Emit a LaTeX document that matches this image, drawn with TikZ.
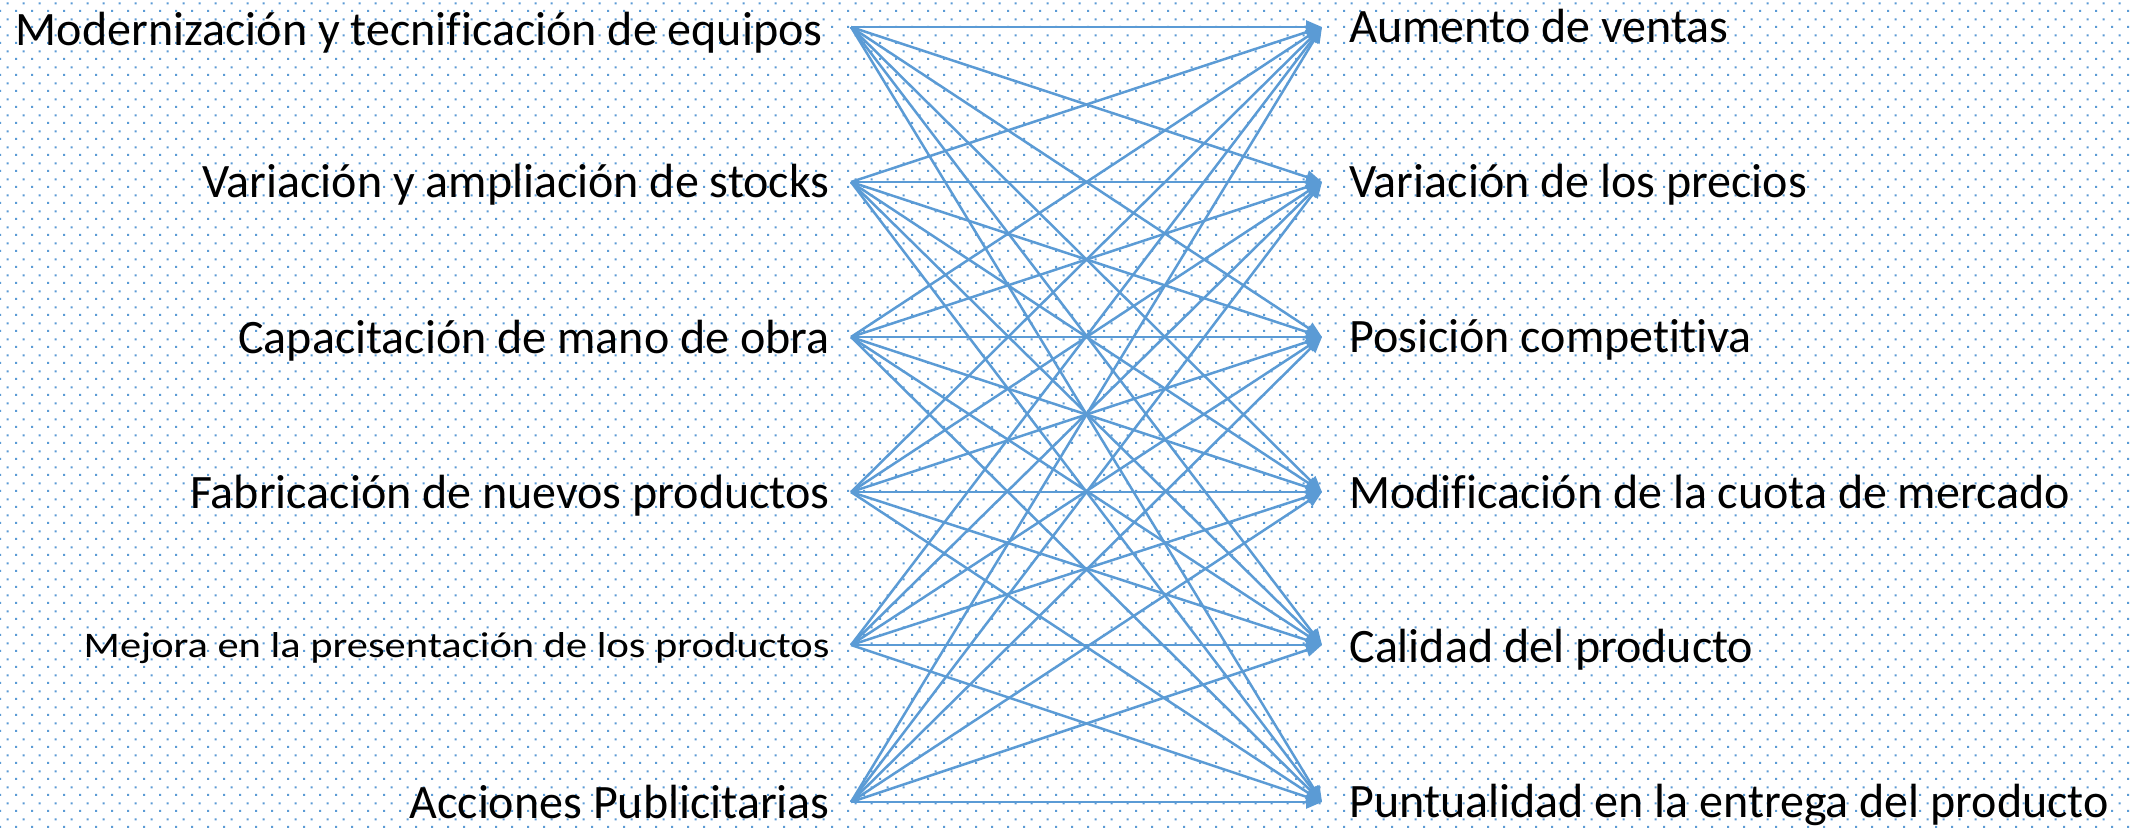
\documentclass[tikz,border=0pt]{standalone}
\usepackage{fontspec}
\setmainfont{Carlito}[Ligatures=NoCommon]
\usetikzlibrary{arrows.meta,patterns.meta}
\definecolor{linkblue}{HTML}{5B9BD5}
\tikzdeclarepattern{
  name=dotgrid,
  type=uncolored,
  bounding box={(0pt,0pt) and (8pt,8pt)},
  tile size={(8pt,8pt)},
  code={
    \fill (0pt,0pt) rectangle (1.1pt,1.1pt);
    \fill (4pt,4pt) rectangle (5.1pt,5.1pt);
  }
}

\begin{document}
\begin{tikzpicture}[
    x=0.5pt, y=-0.5pt,
    cause/.style={anchor=base east, inner sep=0pt, font=\fontsize{24}{29}\selectfont},
    effect/.style={anchor=base west, inner sep=0pt, font=\fontsize{24}{29}\selectfont},
    link/.style={-{Triangle[length=8pt,width=6.5pt]}, draw=linkblue, line width=1.25pt}
  ]
  \useasboundingbox (0,0) rectangle (2131,827);
  \fill[white] (0,0) rectangle (2131,827);
  \fill[pattern=dotgrid, pattern color=linkblue] (0,0) rectangle (2131,827);

  % Causes
  \node[cause] (modern) at (823,45) {Modernización y tecnificación de equipos};
  \node[cause] (stocks) at (830,197) {Variación y ampliación de stocks};
  \node[cause] (capac) at (830,353) {Capacitación de mano de obra};
  \node[cause] (fabric) at (830,508) {Fabricación de nuevos productos};
  \node[cause, font=\fontsize{18}{22}\selectfont, xscale=1.18, transform shape] (present) at (830,657) {Mejora en la presentación de los productos};
  \node[cause] (public) at (830,818) {Acciones Publicitarias};

  % Effects
  \node[effect] (ventas) at (1349,42) {Aumento de ventas};
  \node[effect] (precios) at (1349,197) {Variación de los precios};
  \node[effect] (posic) at (1349,352) {Posición competitiva};
  \node[effect] (cuota) at (1349,508) {Modificación de la cuota de mercado};
  \node[effect] (calidad) at (1349,662) {Calidad del producto};
  \node[effect] (puntual) at (1349,817) {Puntualidad en la entrega del producto};

  % Ports
  \coordinate (c1) at (851,27);
  \coordinate (c2) at (851,182);
  \coordinate (c3) at (851,337);
  \coordinate (c4) at (851,492);
  \coordinate (c5) at (851,645);
  \coordinate (c6) at (851,802);
  \coordinate (e1) at (1322,27);
  \coordinate (e2) at (1322,182);
  \coordinate (e3) at (1322,337);
  \coordinate (e4) at (1322,492);
  \coordinate (e5) at (1322,645);
  \coordinate (e6) at (1322,802);

  % Arrows
  \foreach \i in {1,...,6}
    \foreach \j in {1,...,6}
      \draw[link] (c\i) -- (e\j);
\end{tikzpicture}
\end{document}
